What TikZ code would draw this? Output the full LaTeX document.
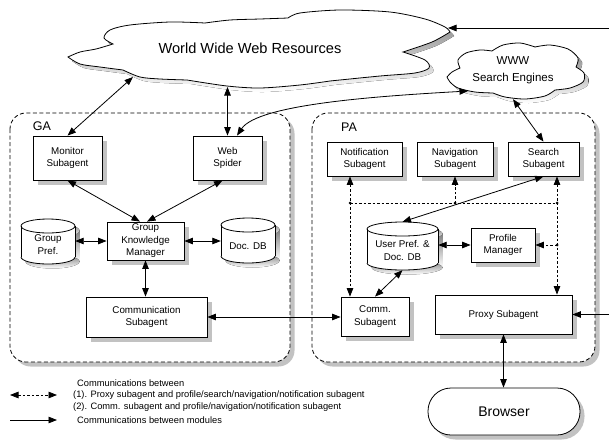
\documentclass[tikz,border=0pt]{standalone}
\usepackage{fontspec}
\setmainfont{Liberation Sans}
\usetikzlibrary{arrows.meta,shadows,calc}
\definecolor{shade}{gray}{0.76}

% cylinder outline with shadow: #1 left, #2 right, #3 top, #4 bottom, #5 half-height of the end ellipses
\newcommand\drawcyl[5]{%
  \pgfmathsetmacro\cylcx{(#1+#2)/2}%
  \pgfmathsetmacro\cylrx{(#2-#1)/2}%
  \pgfmathsetmacro\cylup{#3+#5}%
  \pgfmathsetmacro\cyllo{#4-#5}%
  \begin{scope}[shift={(4.5,4.5)}]
    \fill[shade] (#1,\cylup) rectangle (#2,\cyllo);
    \fill[shade] (\cylcx,\cylup) ellipse[x radius=\cylrx, y radius=#5];
    \fill[shade] (\cylcx,\cyllo) ellipse[x radius=\cylrx, y radius=#5];
  \end{scope}
  \fill[white] (#1,\cylup) rectangle (#2,\cyllo);
  \fill[white] (\cylcx,\cylup) ellipse[x radius=\cylrx, y radius=#5];
  \fill[white] (\cylcx,\cyllo) ellipse[x radius=\cylrx, y radius=#5];
  \draw[line width=0.8pt] (\cylcx,\cylup) ellipse[x radius=\cylrx, y radius=#5];
  \draw[line width=0.8pt] (#1,\cylup) -- (#1,\cyllo) (#2,\cylup) -- (#2,\cyllo);
  \begin{scope}
    \clip (#1-2,\cyllo) rectangle (#2+2,#4+2);
    \draw[line width=0.8pt] (\cylcx,\cyllo) ellipse[x radius=\cylrx, y radius=#5];
  \end{scope}
}

% outline of the large cloud
\newcommand\bigcloudpath{%
  plot[smooth] coordinates {(68,57) (80,52) (96,49) (113,44)}
  -- plot[smooth] coordinates {(113,44) (104,38) (110,30) (130,25) (170,22) (205,23)}
  -- plot[smooth] coordinates {(205,23) (230,20) (260,19) (288,18)}
  -- plot[smooth] coordinates {(288,18) (300,13) (340,10) (390,12) (425,19) (445,27) (450,32)}
  -- plot[smooth] coordinates {(450,32) (432,42) (403,52)}
  -- plot[smooth] coordinates {(403,52) (425,60) (429,68) (415,73) (380,76) (330,81)}
  -- plot[smooth] coordinates {(330,81) (300,85) (260,88) (227,86) (187,80)}
  -- plot[smooth] coordinates {(187,80) (160,79) (140,77) (123,70)}
  -- plot[smooth] coordinates {(123,70) (100,67) (80,64) (68,57)} -- cycle}

% outline of the small cloud
\newcommand\smallcloudpath{%
  plot[smooth] coordinates {(447,77) (452,72) (460,68)}
  -- plot[smooth] coordinates {(460,68) (458,60) (466,53) (480,50) (492,51)}
  -- plot[smooth] coordinates {(492,51) (503,45) (520,43) (535,47)}
  -- plot[smooth] coordinates {(535,47) (550,45) (568,49) (578,58) (576,67)}
  -- plot[smooth] coordinates {(576,67) (584,73) (583,82) (570,88) (555,90)}
  -- plot[smooth] coordinates {(555,90) (545,96) (525,99) (505,97) (493,93)}
  -- plot[smooth] coordinates {(493,93) (475,92) (458,88) (450,82) (447,77)} -- cycle}

\tikzset{
  >={Triangle[length=8.5pt,width=6.5pt]},
  box/.style={draw, fill=white, line width=0.8pt, inner sep=0pt, align=center,
    font=\fontsize{9.8}{12.5}\selectfont,
    drop shadow={shadow xshift=4.5pt, shadow yshift=-4.5pt, fill=shade, opacity=1}},
  cylarea/.style={inner sep=0pt},
  cyltext/.style={inner sep=0pt, align=center, font=\fontsize{9.8}{13}\selectfont},
  link/.style={line width=0.8pt},
  dlink/.style={line width=0.8pt, dash pattern=on 2.5pt off 2pt},
  junction/.style={circle, fill, inner sep=0pt, minimum size=3pt},
  container/.style={draw, fill=white, line width=0.8pt, dash pattern=on 4pt off 2.5pt, rounded corners=16pt},
  containershade/.style={fill=shade, rounded corners=16pt},
  legend/.style={anchor=west, inner sep=0pt, font=\fontsize{9.3}{11}\selectfont},
  agentlabel/.style={inner sep=0pt, font=\fontsize{12.5}{14}\selectfont},
}

\begin{document}
\begin{tikzpicture}[x=1pt,y=-1pt]
\useasboundingbox (0,0) rectangle (609,442);

% agent containers
\fill[containershade] (14.5,117.5) rectangle (294.5,366.5);
\draw[container] (10,113) rectangle (290,362);
\fill[containershade] (316.5,117.5) rectangle (599.5,366.5);
\draw[container] (312,113) rectangle (595,362);
\node[agentlabel] (galabel) at (42,126) {GA};
\node[agentlabel] (palabel) at (349,127) {PA};

% clouds
\fill[shade, shift={(4,4)}] \bigcloudpath;
\filldraw[fill=white, line width=0.8pt] \bigcloudpath;
\node[inner sep=0pt, font=\fontsize{14.6}{16}\selectfont] (www) at (250,48) {World Wide Web Resources};

\fill[shade, shift={(4,4)}] \smallcloudpath;
\filldraw[fill=white, line width=0.8pt] \smallcloudpath;
\node[inner sep=0pt, align=center, minimum width=138pt, minimum height=57pt,
  font=\fontsize{11.5}{17}\selectfont] (se) at (513,70.5) {WWW\\Search Engines};

% GA modules
\node[box, minimum width=69pt, minimum height=44pt] (mon) at (67.5,158) {Monitor\\Subagent};
\node[box, minimum width=69pt, minimum height=44pt] (spider) at (227.5,158) {Web\\Spider};
\node[box, minimum width=77pt, minimum height=38pt] (gkm) at (145.5,241) {Group\\Knowledge\\Manager};
\node[box, minimum width=121pt, minimum height=40pt] (comma) at (146.5,317) {Communication\\Subagent};

\drawcyl{21}{75}{219}{264}{7}
\node[cylarea, minimum width=54pt, minimum height=45pt] (gpref) at (48,241.5) {};
\node[cyltext] (gpreftext) at (48,245) {Group\\Pref.};

\drawcyl{221}{275}{218}{263}{7}
\node[cylarea, minimum width=54pt, minimum height=45pt] (docdb) at (248,240.5) {};
\node[cyltext] (docdbtext) at (248,246) {Doc. DB};

% PA modules
\node[box, minimum width=75pt, minimum height=34pt] (notif) at (364.5,159) {Notification\\Subagent};
\node[box, minimum width=76pt, minimum height=34pt] (nav) at (455,159) {Navigation\\Subagent};
\node[box, minimum width=71pt, minimum height=34pt] (search) at (543.5,159) {Search\\Subagent};
\node[box, minimum width=64pt, minimum height=34pt] (prof) at (503,245) {Profile\\Manager};
\node[box, minimum width=68pt, minimum height=39pt] (commb) at (375,316.5) {Comm.\\Subagent};
\node[box, minimum width=137pt, minimum height=39pt] (proxy) at (503.5,314.5) {Proxy Subagent};

\drawcyl{367}{438}{222}{270}{7}
\node[cylarea, minimum width=71pt, minimum height=48pt] (upref) at (402.5,246) {};
\node[cyltext] (upreftext) at (402.5,250) {User Pref. \&\\Doc. DB};

% browser
\node[box, rounded corners=23pt, minimum width=152pt, minimum height=47pt,
  font=\fontsize{14}{16}\selectfont] (browser) at (504,411.5) {Browser};

% attachment points
\coordinate (wwwA) at (133,77);
\coordinate (wwwB) at (227.5,87);
\coordinate (wwwC) at (448,28);
\coordinate (seW) at (468,91);
\coordinate (edgeA) at (609,28);
\coordinate (edgeB) at (609,314.5);
\coordinate (j1) at (350,203);
\coordinate (j2) at (455,203);
\coordinate (j3) at (557,203);
\coordinate (j4) at (557,245);

% module communications
\draw[link,->] (edgeA) -- (wwwC);
\draw[link,<->] (mon.north) -- (wwwA);
\draw[link,<->] (spider.north) -- (wwwB);
\draw[link,<->] ([xshift=9.5pt]spider.north) .. controls (258,104) and (380,96) .. (seW);
\draw[link,<->] (mon.south) -- ([xshift=-5.5pt]gkm.north);
\draw[link,<->] ([xshift=-5pt]spider.south) -- ([xshift=1.5pt]gkm.north);
\draw[link,<->] (gkm.west -| gpref.east) -- (gkm.west);
\draw[link,<->] (gkm.east) -- (gkm.east -| docdb.west);
\draw[link,<->] (gkm.south) -- (gkm.south |- comma.north);
\draw[link,<->] (comma.east) -- (comma.east -| commb.west);
\draw[link,<->] (se.south) -- (search.north);
\draw[link,<->] (search.south) -- (upref.north);
\draw[link,<->] (prof.west -| upref.east) -- (prof.west);
\draw[link,<->] (upref.south) -- (commb.north);
\draw[link,<->] (proxy.south) -- (proxy.south |- browser.north);
\draw[link,->] (edgeB) -- (proxy.east);

% proxy / comm. subagent communications
\draw[dlink] (j1) -- (j3);
\draw[dlink,<->] (notif.south -| j1) -- (commb.north -| j1);
\draw[dlink,->] (j2) -- (nav.south);
\draw[dlink,<->] (search.south -| j3) -- (proxy.north -| j3);
\draw[dlink,->] (j4) -- (prof.east);
\node[junction] (d1) at (j1) {};
\node[junction] (d2) at (j2) {};
\node[junction] (d3) at (j3) {};
\node[junction] (d4) at (j4) {};

% legend
\coordinate (la1) at (10,395);
\coordinate (la2) at (57,395);
\coordinate (lb1) at (10,420);
\coordinate (lb2) at (57,420);
\draw[dlink,<->] (la1) -- (la2);
\draw[link,->] (lb1) -- (lb2);
\node[legend] (lt0) at (77,383) {Communications between};
\node[legend] (lt1) at (73,395) {(1). Proxy subagent and profile/search/navigation/notification subagent};
\node[legend] (lt2) at (73,407) {(2). Comm. subagent and profile/navigation/notification subagent};
\node[legend] (lt3) at (77,420) {Communications between modules};
\end{tikzpicture}
\end{document}
